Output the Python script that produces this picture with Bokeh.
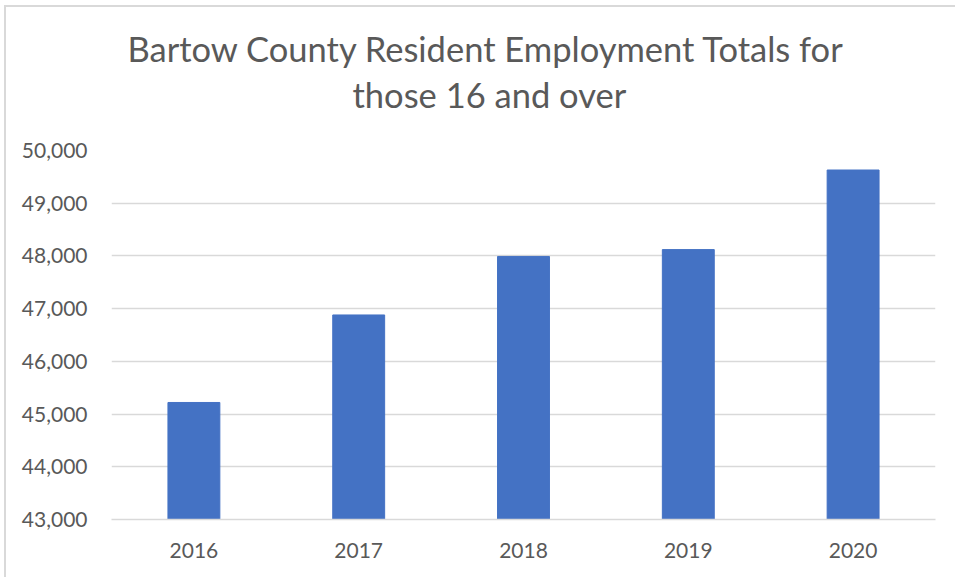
from bokeh.plotting import figure
from bokeh.models import NumeralTickFormatter, FixedTicker, Range1d, Title
from bokeh.embed import file_html
from bokeh.resources import INLINE

years = ["2016", "2017", "2018", "2019", "2020"]
employment = [45220, 46880, 47990, 48120, 49630]
y_ticks = [43000, 44000, 45000, 46000, 47000, 48000, 49000, 50000]
title_lines = ["Bartow County Resident Employment Totals for", "those 16 and over"]

TEXT = "#595959"
GRID = "#d9d9d9"
BAR = "#4472C4"
FONT = "Lato"

p = figure(x_range=years, y_range=Range1d(43000, 50000),
           width=955, height=577, output_backend="svg", toolbar_location=None,
           min_border_left=111, min_border_right=20, min_border_top=150,
           min_border_bottom=58)
p.styles = {"box-shadow": "inset 4px 5px 0 0 white, inset 6px 7px 0 0 #d9d9d9"}

p.vbar(x=years, top=employment, bottom=43000, width=0.315, color=BAR)

# title lines: the first added sits nearest the frame
offsets = {title_lines[0]: 16, title_lines[1]: 241}
for txt in reversed(title_lines):
    p.add_layout(Title(text=txt, align="left", offset=offsets[txt], standoff=0,
                       text_font=FONT, text_font_size="34.5px", text_color=TEXT,
                       text_font_style="normal"), "above")
p.above[0].standoff = 71
p.above[1].standoff = -65

p.outline_line_color = None
p.xgrid.grid_line_color = None
p.ygrid.grid_line_color = GRID
p.ygrid.grid_line_width = 1.4
p.ygrid.ticker = FixedTicker(ticks=y_ticks)

p.yaxis.ticker = FixedTicker(ticks=y_ticks)
p.yaxis.formatter = NumeralTickFormatter(format="0,0")
p.yaxis.axis_line_color = None
p.yaxis.major_tick_line_color = None
p.yaxis.minor_tick_line_color = None
p.yaxis.major_label_standoff = 18
p.yaxis.major_label_text_font = FONT
p.yaxis.major_label_text_font_size = "21px"
p.yaxis.major_label_text_color = TEXT

p.xaxis.axis_line_color = GRID
p.xaxis.axis_line_width = 1.4
p.xaxis.major_tick_line_color = None
p.xaxis.minor_tick_line_color = None
p.xaxis.major_label_standoff = 17
p.xaxis.major_label_text_font = FONT
p.xaxis.major_label_text_font_size = "21px"
p.xaxis.major_label_text_color = TEXT

p.background_fill_color = "white"
p.border_fill_alpha = 0

open("out.html", "w").write(file_html(p, INLINE))
